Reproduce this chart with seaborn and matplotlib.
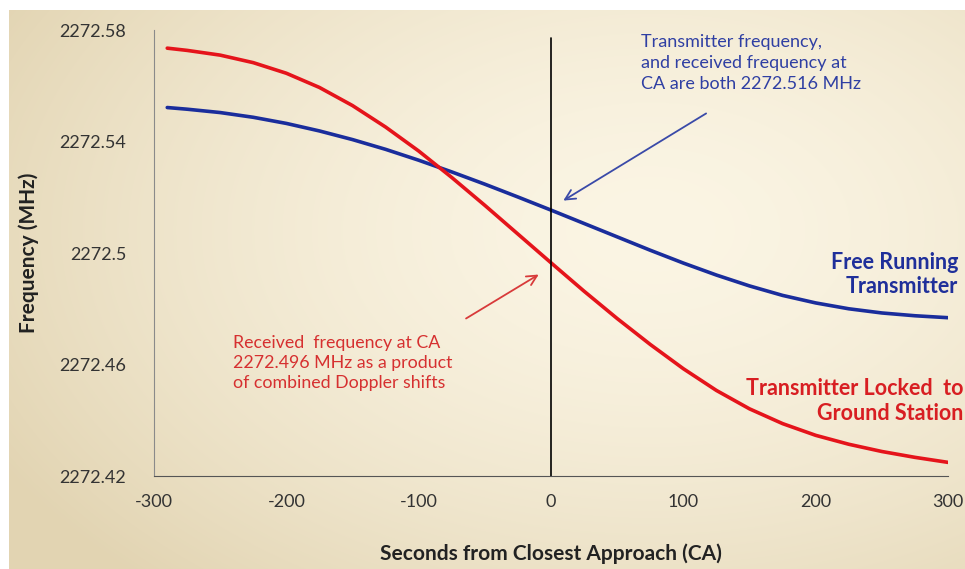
import numpy as np
import pandas as pd
import matplotlib
matplotlib.use("Agg")
import matplotlib.pyplot as plt
import seaborn as sns

# Data
seconds = [-290, -275, -250, -225, -200, -175, -150, -125, -100, -75, -50, -25, 0,
           25, 50, 75, 100, 125, 150, 175, 200, 225, 250, 275, 300]
free_running = [2272.5522, 2272.5516, 2272.5504, 2272.5487, 2272.5465, 2272.5438,
                2272.5407, 2272.5372, 2272.5333, 2272.5291, 2272.5247, 2272.5201,
                2272.5154, 2272.5106, 2272.5058, 2272.5010, 2272.4964, 2272.4921,
                2272.4882, 2272.4848, 2272.4821, 2272.4800, 2272.4785, 2272.4775,
                2272.4768]
locked = [2272.5735, 2272.5727, 2272.5710, 2272.5683, 2272.5645, 2272.5594,
          2272.5529, 2272.5452, 2272.5366, 2272.5271, 2272.5171, 2272.5068,
          2272.4965, 2272.4863, 2272.4765, 2272.4672, 2272.4585, 2272.4507,
          2272.4441, 2272.4388, 2272.4346, 2272.4314, 2272.4288, 2272.4267,
          2272.4249]
x_ticks = [-300, -200, -100, 0, 100, 200, 300]
y_ticks = [2272.42, 2272.46, 2272.50, 2272.54, 2272.58]

df = pd.concat([
    pd.DataFrame({"t": seconds, "f": free_running, "series": "free"}),
    pd.DataFrame({"t": seconds, "f": locked, "series": "locked"}),
])

sns.set_style("white")
plt.rcParams["font.family"] = ["Lato", "DejaVu Sans"]
plt.rcParams["axes.unicode_minus"] = False

fig = plt.figure(figsize=(9.65, 5.69), dpi=100)

# beige gradient background like the slide
h, w = 569, 965
yy, xx = np.mgrid[0:h, 0:w]
d = np.clip(np.sqrt(((xx - 650) / 750) ** 2 + ((yy - 230) / 480) ** 2), 0, 1)
c0 = np.array([251, 245, 228]) / 255
c1 = np.array([226, 212, 178]) / 255
bg = c0 + (c1 - c0) * (d[..., None] ** 1.6)
bg[:10, :, :] = 1.0
bg[:, :9, :] = 1.0
fig.figimage(bg, 0, 0, zorder=-5)

ax = fig.add_axes([0.1596, 0.1634, 0.8228, 0.7838])
ax.set_facecolor("none")

sns.lineplot(data=df, x="t", y="f", hue="series",
             palette={"free": "#1a2d9c", "locked": "#e5141b"},
             linewidth=2.6, legend=False, ax=ax)

ax.axvline(0, ymin=0, ymax=0.982, color="black", lw=1.2)

ax.set_xlim(-300, 300)
ax.set_ylim(2272.42, 2272.58)
ax.set_xticks(x_ticks)
ax.set_yticks(y_ticks)
ax.set_yticklabels([f"{v:.2f}".rstrip("0") for v in y_ticks])
ax.tick_params(axis="both", labelsize=13, colors="#333333", direction="out")
ax.tick_params(axis="x", length=5, pad=8, color="#555555")
ax.tick_params(axis="y", length=5, pad=15, color="#888888")

sns.despine(ax=ax)
ax.spines["left"].set_color("#8a8a8a")
ax.spines["bottom"].set_color("#555555")

ax.set_xlabel("Seconds from Closest Approach (CA)", fontsize=15,
              fontweight="bold", color="#222222")
ax.set_ylabel("Frequency (MHz)", fontsize=15, fontweight="bold", color="#222222")
ax.xaxis.set_label_coords(0.5, -0.152)
ax.yaxis.set_label_coords(-0.145, 0.5)

# annotations
ax.text(68, 2272.5785, "Transmitter frequency,\nand received frequency at\nCA are both 2272.516 MHz",
        color="#2f3fa3", fontsize=13, ha="left", va="top", linespacing=1.38)
ax.annotate("", xy=(7.5, 2272.5183), xytext=(119, 2272.5506),
            arrowprops=dict(arrowstyle="->", color="#3a4aa8", lw=1.3,
                            mutation_scale=18))

ax.text(-240, 2272.4705, "Received  frequency at CA\n2272.496 MHz as a product\nof combined Doppler shifts",
        color="#d63030", fontsize=12.8, ha="left", va="top", linespacing=1.3)
ax.annotate("", xy=(-7.5, 2272.4928), xytext=(-66, 2272.476),
            arrowprops=dict(arrowstyle="->", color="#d83a3a", lw=1.3,
                            mutation_scale=18))

ax.text(0.993, 0.557, "Free Running\nTransmitter", color="#1f2f9a",
        fontsize=15.5, fontweight="bold", ha="right", va="top",
        linespacing=1.2, transform=fig.transFigure)
ax.text(0.998, 0.335, "Transmitter Locked  to\nGround Station", color="#d81e22",
        fontsize=15.5, fontweight="bold", ha="right", va="top",
        linespacing=1.2, transform=fig.transFigure)

fig.savefig("out.png", dpi=100)
